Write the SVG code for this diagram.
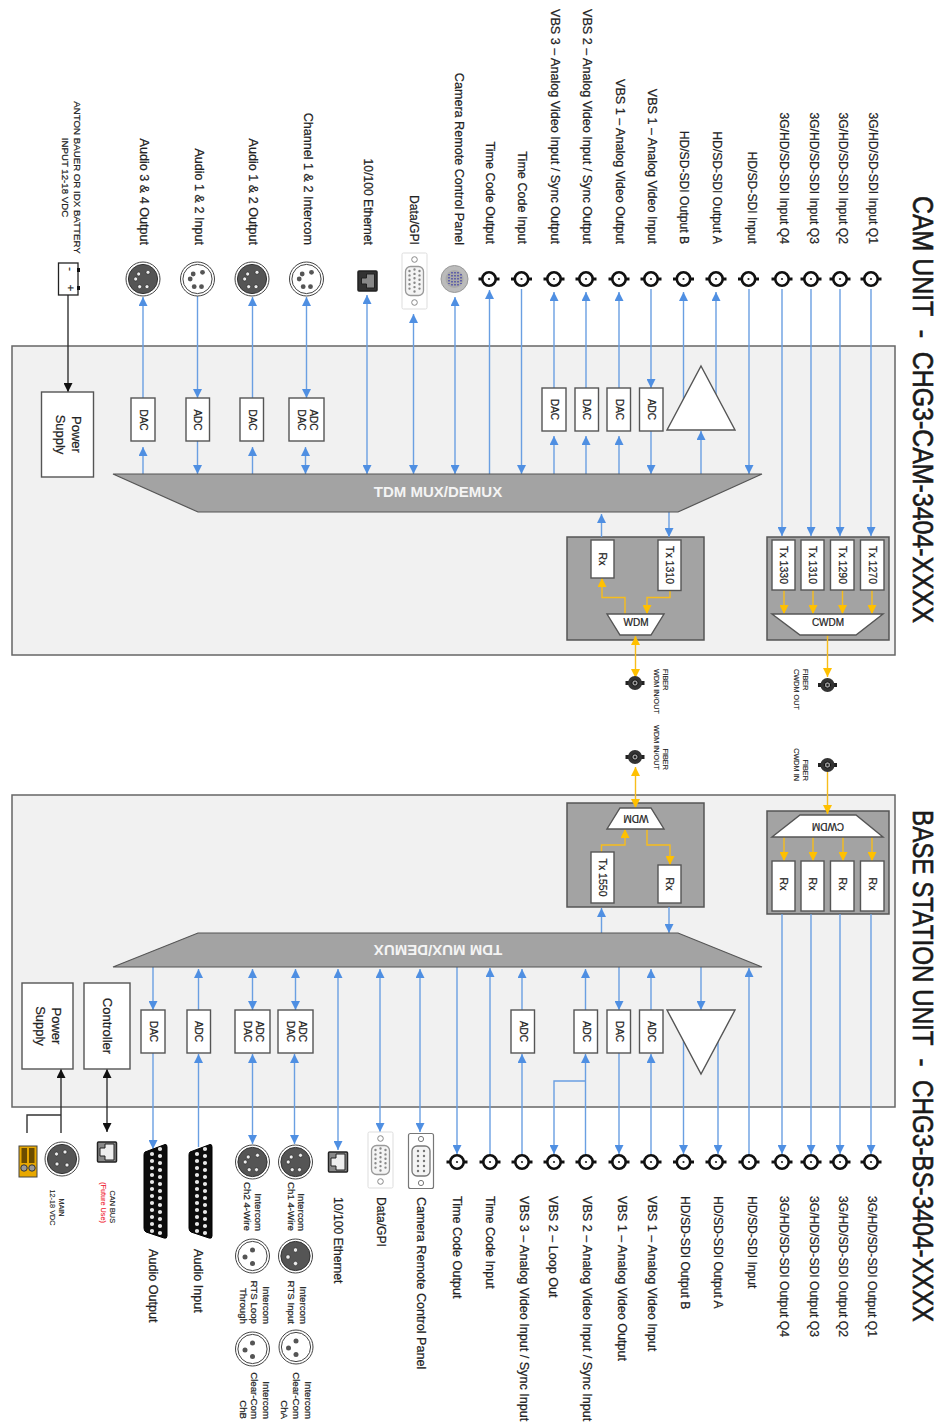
<svg xmlns="http://www.w3.org/2000/svg" width="944" height="1422" viewBox="0 0 944 1422">
<style>
text{font-family:"Liberation Sans",Arial,sans-serif;fill:#222;stroke:#222;stroke-width:.22}
.l{font-size:12.6px}
.l2{font-size:12.15px}
.e{text-anchor:end}
.m{text-anchor:middle}
.t{font-size:29px;fill:#1a1a1a;stroke:#1a1a1a;stroke-width:.6;white-space:pre}
.s9{font-size:9.7px}
.s7{font-size:7.3px;stroke-width:.1}
.bt{font-size:10px}
.tx{font-size:10.5px}
.ps{font-size:13px}
.mux{font-size:15px;font-weight:bold;fill:#f4f4f4;stroke:none;text-anchor:middle}
.panel{fill:#f1f1f1;stroke:#666;stroke-width:1.5}
.grp{fill:#a3a3a3;stroke:#555;stroke-width:1.5}
.tr{fill:#a3a3a3;stroke:#555;stroke-width:1.2}
.box{fill:#fff;stroke:#555;stroke-width:1.4}
.b,.y,.k{fill:none;stroke-width:1.4}
.b{stroke:#6a9fe2}
.y{stroke:#f7bd1c}
.k{stroke:#333}
.b.a{marker-end:url(#mb)}
.b.d{marker-end:url(#mb);marker-start:url(#mb)}
.y.a{marker-end:url(#my)}
.y.d{marker-end:url(#my);marker-start:url(#my)}
.k.a{marker-end:url(#mk)}
.k.d{marker-end:url(#mk);marker-start:url(#mk)}
</style>
<defs>
<marker id="mb" markerUnits="userSpaceOnUse" markerWidth="9" markerHeight="9" viewBox="0 0 8 8" refX="8" refY="4" orient="auto-start-reverse"><path d="M0,0L8,4L0,8z" fill="#4f8fe2"/></marker>
<marker id="my" markerUnits="userSpaceOnUse" markerWidth="9" markerHeight="9" viewBox="0 0 8 8" refX="8" refY="4" orient="auto-start-reverse"><path d="M0,0L8,4L0,8z" fill="#ffc000"/></marker>
<marker id="mk" markerUnits="userSpaceOnUse" markerWidth="9" markerHeight="9" viewBox="0 0 8 8" refX="8" refY="4" orient="auto-start-reverse"><path d="M0,0L8,4L0,8z" fill="#111"/></marker>
<g id="bnc"><rect x="-10.5" y="-1.5" width="21" height="3" fill="#111"/><circle r="6.7" fill="#fff" stroke="#111" stroke-width="2.6"/><circle r="1.1" fill="#222"/></g>
<g id="fib"><rect x="-9.5" y="-2" width="19" height="4" fill="#222"/><circle r="7" fill="#333"/><circle r="3.2" fill="#999" stroke="#111"/><circle r="1.2" fill="#222"/></g>
<g id="ringD"><circle r="17" fill="#fff" stroke="#444"/><circle r="14.6" fill="#555" stroke="#333"/></g>
<g id="ringL"><circle r="17" fill="#fff" stroke="#444"/><circle r="14.6" fill="#fff" stroke="#444"/></g>
<g id="x5D"><use href="#ringD"/><g fill="#eee" stroke="#222" stroke-width=".6"><circle cx="5" cy="-6.7" r="2"/><circle cx="-4.3" cy="-5" r="2"/><circle cx="-7.3" cy="0" r="2"/><circle cx="-3.3" cy="7.7" r="2"/><circle cx="4" cy="7.7" r="2"/></g></g>
<g id="x5L"><use href="#ringL"/><g fill="#555"><circle cx="5" cy="-6.7" r="2.4"/><circle cx="-4.3" cy="-5" r="2.4"/><circle cx="-7.3" cy="0" r="2.4"/><circle cx="-3.3" cy="7.7" r="2.4"/><circle cx="4" cy="7.7" r="2.4"/></g></g>
<g id="x3D"><use href="#ringD"/><g fill="#eee" stroke="#222" stroke-width=".6"><circle cy="-6" r="2.2"/><circle cx="-7.5" cy="1" r="2.2"/><circle cy="7.5" r="2.2"/></g></g>
<g id="x3L"><use href="#ringL"/><g fill="#555"><circle cy="-6" r="2.5"/><circle cx="-7.5" cy="1" r="2.5"/><circle cy="7.5" r="2.5"/></g></g>
<g id="x4D"><use href="#ringD"/><g fill="#eee" stroke="#222" stroke-width=".6"><circle cx="-5.5" cy="-5" r="2"/><circle cx="3" cy="-7" r="2"/><circle cx="-5" cy="5" r="2"/><circle cx="5" cy="6" r="2"/></g></g>
<g id="rj"><rect x="-9.5" y="-10" width="19" height="20" rx="1" fill="#888" stroke="#222" stroke-width="1.5"/><path d="M7,-8V8H-2V4H-7V-4H-2V-8z" fill="#eee" stroke="#222"/></g>
<g id="rjD"><rect x="-9.5" y="-10" width="19" height="20" rx="1" fill="#333" stroke="#222" stroke-width="1.5"/><path d="M7,-7V7H-1V3H-6V-3H-1V-7z" fill="#888" stroke="#222"/></g>
<g id="vga"><rect x="-12.5" y="-28" width="25" height="56" rx="1.5" fill="#fff" stroke="#ddd"/><circle cy="-21.5" r="2.8" fill="#fff" stroke="#888"/><circle cy="21.5" r="2.8" fill="#fff" stroke="#888"/><rect x="-9" y="-14.5" width="18" height="29" rx="5" fill="#f4f4f4" stroke="#999" stroke-width="1.3"/><path d="M-5,-10V11M0,-11.5V11.5M5,-10V11" stroke="#888" stroke-width="2.4" stroke-linecap="round" stroke-dasharray="0 4.4" fill="none"/></g>
<g id="vga2"><rect x="-12.5" y="-27.5" width="25" height="55" rx="2" fill="#fff" stroke="#777" stroke-width="1.2"/><circle cy="-22" r="2.6" fill="#fff" stroke="#777"/><circle cy="22" r="2.6" fill="#fff" stroke="#777"/><rect x="-9" y="-15" width="18" height="30" rx="5" fill="#f4f4f4" stroke="#777" stroke-width="1.3"/><path d="M-3,-10V11M3,-10V11" stroke="#777" stroke-width="2.4" stroke-linecap="round" stroke-dasharray="0 5" fill="none"/></g>
<g id="db25"><path d="M2,8L22,0.5Q24,0,24,3V92Q24,95,21,94L3,88Q1,87,1,84V11Q1,9,2,8z" fill="#0c0c0c" stroke="#000"/><path d="M9,10V90M17,5V93" stroke="#e8e8e8" stroke-width="4.2" stroke-linecap="round" stroke-dasharray="0 7" fill="none"/></g>
</defs>

<g id="titles">
<text class="t" transform="translate(912.5,196) rotate(90)" textLength="427" lengthAdjust="spacingAndGlyphs">CAM UNIT  -  CHG3-CAM-3404-XXXX</text>
<text class="t" transform="translate(912.5,810) rotate(90)" textLength="512" lengthAdjust="spacingAndGlyphs">BASE STATION UNIT  -  CHG3-BS-3404-XXXX</text>
</g>

<g id="cam-panel"><rect class="panel" x="12" y="346" width="883" height="309"/></g>
<g id="base-panel"><rect class="panel" x="12" y="795" width="883" height="312"/></g>
<g id="cam-wdm-group"><rect class="grp" x="567" y="537" width="137" height="103"/></g>
<g id="cam-cwdm-group"><rect class="grp" x="767" y="537" width="122" height="103"/></g>
<g id="base-wdm-group"><rect class="grp" x="567" y="803" width="137" height="104"/></g>
<g id="base-cwdm-group"><rect class="grp" x="767" y="811" width="122" height="103"/></g>

<g id="connectors">
<path class="k a" d="M68,295V392"/>
<path class="b a" d="M143,398V297"/><path class="b a" d="M143,474V447"/>
<path class="b a" d="M197.5,295V398"/><path class="b a" d="M197.5,441V474"/>
<path class="b a" d="M252.5,398V297"/><path class="b a" d="M252.5,474V447"/>
<path class="b d" d="M306.5,297V398"/><path class="b d" d="M305.5,447V474"/>
<path class="b d" d="M367,295V474"/><path class="b d" d="M413.5,314V474"/><path class="b d" d="M455,297V474"/>
<path class="b a" d="M489.5,474V290"/><path class="b a" d="M521.5,289V474"/>
<path class="b a" d="M554,388V292"/><path class="b a" d="M554,474V436"/>
<path class="b a" d="M586,388V292"/><path class="b a" d="M586,474V436"/>
<path class="b a" d="M619,388V292"/><path class="b a" d="M619,474V436"/>
<path class="b a" d="M651,289V388"/><path class="b a" d="M651,431V474"/>
<path class="b a" d="M683.5,410V292"/><path class="b a" d="M716,410V292"/><path class="b a" d="M701,474V431"/>
<path class="b a" d="M749,289V474"/>
<path class="b a" d="M782,289V536"/><path class="b a" d="M811,289V536"/><path class="b a" d="M840,289V536"/><path class="b a" d="M871,289V536"/>
<path class="b a" d="M601.5,537V514"/><path class="b a" d="M669,512V537"/>
<path class="y a" d="M625,614V597.5H602V578"/><path class="y a" d="M670,590V597.5H647V614"/>
<path class="y d" d="M635.5,636V678"/><path class="y a" d="M827.5,635V677"/>
<path class="y a" d="M784,590V614"/><path class="y a" d="M813,590V614"/><path class="y a" d="M842.5,590V614"/><path class="y a" d="M872,590V614"/>

<path class="y d" d="M635.5,767V808"/><path class="y a" d="M827.5,772V814"/>
<path class="y a" d="M601.5,852V845H625V829"/><path class="y a" d="M647,829V845H670V865"/>
<path class="y a" d="M784,837V861"/><path class="y a" d="M813,837V861"/><path class="y a" d="M843,837V861"/><path class="y a" d="M872,837V861"/>
<path class="b a" d="M601.5,933V908"/><path class="b a" d="M669,907V933"/>
<path class="b a" d="M153,967V1010"/><path class="b a" d="M153,1053V1149"/>
<path class="b a" d="M198.5,1010V969"/><path class="b a" d="M198.5,1147V1054"/>
<path class="b d" d="M252.5,969V1010"/><path class="b d" d="M252.5,1054V1144"/>
<path class="b d" d="M295.5,969V1010"/><path class="b d" d="M294.5,1054V1144"/>
<path class="b d" d="M338,969V1150"/><path class="b d" d="M380,969V1132"/><path class="b d" d="M420,969V1132"/>
<path class="b a" d="M457,967V1154"/><path class="b a" d="M490,1155V968"/>
<path class="b a" d="M522,1010V969"/><path class="b a" d="M522,1155V1054"/>
<path class="b a" d="M585.5,1010V969"/><path class="b a" d="M585.5,1155V1054"/>
<path class="b a" d="M586,1081H554V1154"/>
<path class="b a" d="M619,967V1010"/><path class="b a" d="M619,1053V1154"/>
<path class="b a" d="M651,1010V969"/><path class="b a" d="M651,1155V1054"/>
<path class="b a" d="M701,967V1010"/>
<path class="b a" d="M683.5,1040V1154"/><path class="b a" d="M718,1040V1154"/>
<path class="b a" d="M749,1155V968"/>
<path class="b a" d="M782,914V1154"/><path class="b a" d="M811,914V1154"/><path class="b a" d="M840,914V1154"/><path class="b a" d="M871,914V1154"/>
<path class="k a" d="M61,1133V1069"/><path class="k" d="M61,1115H27V1133"/><path class="k d" d="M107,1069V1132"/>
</g>

<g id="battery"><rect x="58.5" y="263" width="19.5" height="32" fill="#fff" stroke="#222" stroke-width="1.3"/><rect x="77" y="268" width="3" height="4" fill="#111"/><rect x="77" y="286" width="3" height="4" fill="#111"/><text transform="translate(67,269) rotate(90)" font-size="11" class="m">-</text><text transform="translate(67,288) rotate(90)" font-size="11" class="m">+</text>
<text class="s9 m" transform="translate(73.5,177.5) rotate(90)">ANTON BAUER OR IDX BATTERY</text><text class="s9 m" transform="translate(61.5,177.5) rotate(90)">INPUT 12-18 VDC</text></g>
<g id="cam-psu"><rect class="box" x="41.5" y="392" width="52" height="85"/><text class="ps m" transform="translate(71.5,434.5) rotate(90)">Power</text><text class="ps m" transform="translate(55.5,434.5) rotate(90)">Supply</text></g>
<g id="cam-dac34"><rect class="box" x="131" y="398" width="24" height="43"/><text class="bt m" transform="translate(139.5,420) rotate(90)">DAC</text></g>
<g id="cam-adc12"><rect class="box" x="186" y="398" width="23.5" height="43"/><text class="bt m" transform="translate(194,420) rotate(90)">ADC</text></g>
<g id="cam-dac12"><rect class="box" x="240" y="398" width="23.5" height="43"/><text class="bt m" transform="translate(248.5,420) rotate(90)">DAC</text></g>
<g id="cam-adcdac"><rect class="box" x="289" y="398" width="35" height="43"/><text class="bt m" transform="translate(309.5,420) rotate(90)">ADC</text><text class="bt m" transform="translate(297.5,420) rotate(90)">DAC</text></g>
<g id="cam-dac-vbs3"><rect class="box" x="542" y="388" width="24" height="43"/><text class="bt m" transform="translate(551,409.5) rotate(90)">DAC</text></g>
<g id="cam-dac-vbs2"><rect class="box" x="575" y="388" width="23.5" height="43"/><text class="bt m" transform="translate(583,409.5) rotate(90)">DAC</text></g>
<g id="cam-dac-vbs1"><rect class="box" x="607" y="388" width="23.5" height="43"/><text class="bt m" transform="translate(615.5,409.5) rotate(90)">DAC</text></g>
<g id="cam-adc-vbs1"><rect class="box" x="639.5" y="388" width="23.5" height="43"/><text class="bt m" transform="translate(648,409.5) rotate(90)">ADC</text></g>
<g id="cam-amp"><path class="box" d="M701,366L735,430H667z"/></g>
<g id="cam-mux"><path class="tr" d="M113,474H762L678,512H198z"/><text class="mux" transform="translate(438,497)">TDM MUX/DEMUX</text></g>
<g id="cam-rx"><rect class="box" x="591" y="540" width="23" height="38"/><text class="tx m" transform="translate(599,559) rotate(90)">Rx</text></g>
<g id="cam-tx1310"><rect class="box" x="658" y="540" width="23" height="50.5"/><text class="tx m" transform="translate(666,565) rotate(90)">Tx 1310</text></g>
<g id="cam-wdm"><path class="box" d="M607,614H664L651,635H620z"/><text class="bt m" x="636" y="626">WDM</text></g>
<g id="cam-tx-q4"><rect class="box" x="772" y="540" width="23" height="50"/><text class="tx m" transform="translate(780,565) rotate(90)">Tx 1330</text></g>
<g id="cam-tx-q3"><rect class="box" x="801" y="540" width="23" height="50"/><text class="tx m" transform="translate(809,565) rotate(90)">Tx 1310</text></g>
<g id="cam-tx-q2"><rect class="box" x="830.5" y="540" width="23.5" height="50"/><text class="tx m" transform="translate(838.5,565) rotate(90)">Tx 1290</text></g>
<g id="cam-tx-q1"><rect class="box" x="860.5" y="540" width="23.5" height="50"/><text class="tx m" transform="translate(868.5,565) rotate(90)">Tx 1270</text></g>
<g id="cam-cwdm"><path class="box" d="M772,614H883L856,635H800z"/><text class="bt m" x="828" y="626">CWDM</text></g>

<g id="cam-audio34"><use href="#x5D" x="143" y="279"/><text class="l e" transform="translate(140,245) rotate(90)">Audio 3 &amp; 4 Output</text></g>
<g id="cam-audio12in"><use href="#x5L" x="197.5" y="279"/><text class="l e" transform="translate(194.5,245) rotate(90)">Audio 1 &amp; 2 Input</text></g>
<g id="cam-audio12out"><use href="#x5D" x="252" y="279"/><text class="l e" transform="translate(249,245) rotate(90)">Audio 1 &amp; 2 Output</text></g>
<g id="cam-intercom"><use href="#x5L" x="306.5" y="279"/><text class="l e" transform="translate(304,245) rotate(90)">Channel 1 &amp; 2 Intercom</text></g>
<g id="cam-eth"><use href="#rjD" x="367.5" y="281"/><text class="l2 e" transform="translate(364,245) rotate(90)">10/100 Ethernet</text></g>
<g id="cam-gpi"><use href="#vga" x="414.5" y="281"/><text class="l2 e" transform="translate(410,245) rotate(90)">Data/GPI</text></g>
<g id="cam-panel-conn"><circle cx="454.5" cy="279" r="13.5" fill="#bbb" stroke="#999"/><circle cx="454.5" cy="279" r="9" fill="#aaa"/><path d="M449,274V284M452,272V286M455,272V286M458,272V286M461,274V284" stroke="#5a5aa8" stroke-width="1.8" stroke-dasharray="1.5 1.5" fill="none"/><text class="l e" transform="translate(455,245) rotate(90)">Camera Remote Control Panel</text></g>
<g id="cam-tc-out"><use href="#bnc" x="489" y="279"/><text class="l e" transform="translate(486,244) rotate(90)">Time Code Output</text></g>
<g id="cam-tc-in"><use href="#bnc" x="521.5" y="279"/><text class="l e" transform="translate(518,244) rotate(90)">Time Code Input</text></g>
<g id="cam-vbs3"><use href="#bnc" x="554" y="279"/><text class="l e" transform="translate(551,244) rotate(90)">VBS 3 – Analog Video Input / Sync Output</text></g>
<g id="cam-vbs2"><use href="#bnc" x="586" y="279"/><text class="l e" transform="translate(583,244) rotate(90)">VBS 2 – Analog Video Input / Sync Output</text></g>
<g id="cam-vbs1out"><use href="#bnc" x="619" y="279"/><text class="l e" transform="translate(616,244) rotate(90)">VBS 1 – Analog Video Output</text></g>
<g id="cam-vbs1in"><use href="#bnc" x="651" y="279"/><text class="l e" transform="translate(648,244) rotate(90)">VBS 1 – Analog Video Input</text></g>
<g id="cam-sdi-b"><use href="#bnc" x="683.5" y="279"/><text class="l2 e" transform="translate(680,244) rotate(90)">HD/SD-SDI Output B</text></g>
<g id="cam-sdi-a"><use href="#bnc" x="716" y="279"/><text class="l2 e" transform="translate(713,244) rotate(90)">HD/SD-SDI Output A</text></g>
<g id="cam-sdi-in"><use href="#bnc" x="748.5" y="279"/><text class="l2 e" transform="translate(748,244) rotate(90)">HD/SD-SDI Input</text></g>
<g id="cam-q4"><use href="#bnc" x="782" y="279"/><text class="l2 e" transform="translate(780,244) rotate(90)">3G/HD/SD-SDI Input Q4</text></g>
<g id="cam-q3"><use href="#bnc" x="811" y="279"/><text class="l2 e" transform="translate(810,244) rotate(90)">3G/HD/SD-SDI Input Q3</text></g>
<g id="cam-q2"><use href="#bnc" x="840" y="279"/><text class="l2 e" transform="translate(839,244) rotate(90)">3G/HD/SD-SDI Input Q2</text></g>
<g id="cam-q1"><use href="#bnc" x="871" y="279"/><text class="l2 e" transform="translate(869,244) rotate(90)">3G/HD/SD-SDI Input Q1</text></g>
<g id="cam-fiber-wdm"><use href="#fib" x="635" y="683"/><text class="s7" transform="translate(663,669) rotate(90)">FIBER</text><text class="s7" transform="translate(654,669) rotate(90)">WDM IN/OUT</text></g>
<g id="cam-fiber-cwdm"><use href="#fib" x="827.5" y="685"/><text class="s7" transform="translate(803,669) rotate(90)">FIBER</text><text class="s7" transform="translate(794,669) rotate(90)">CWDM OUT</text></g>

<g id="base-fiber-wdm"><use href="#fib" x="635" y="757"/><text class="s7 e" transform="translate(663,770) rotate(90)">FIBER</text><text class="s7 e" transform="translate(654,770) rotate(90)">WDM IN/OUT</text></g>
<g id="base-fiber-cwdm"><use href="#fib" x="827.5" y="765"/><text class="s7 e" transform="translate(803,781) rotate(90)">FIBER</text><text class="s7 e" transform="translate(794,781) rotate(90)">CWDM IN</text></g>
<g id="base-wdm"><path class="box" d="M620,808H651L664,829H607z"/><text class="bt m" transform="translate(636,815) rotate(180)">WDM</text></g>
<g id="base-tx1550"><rect class="box" x="591" y="852" width="23" height="51"/><text class="tx m" transform="translate(599,877.5) rotate(90)">Tx 1550</text></g>
<g id="base-rx"><rect class="box" x="658" y="865" width="23" height="38"/><text class="tx m" transform="translate(666,884) rotate(90)">Rx</text></g>
<g id="base-cwdm"><path class="box" d="M800,815H856L883,837H772z"/><text class="bt m" transform="translate(828,823) rotate(180)">CWDM</text></g>
<g id="base-rx-q4"><rect class="box" x="772" y="861" width="23" height="50"/><text class="tx m" transform="translate(780,884) rotate(90)">Rx</text></g>
<g id="base-rx-q3"><rect class="box" x="801" y="861" width="23" height="50"/><text class="tx m" transform="translate(809,884) rotate(90)">Rx</text></g>
<g id="base-rx-q2"><rect class="box" x="830.5" y="861" width="23.5" height="50"/><text class="tx m" transform="translate(838.5,884) rotate(90)">Rx</text></g>
<g id="base-rx-q1"><rect class="box" x="860.5" y="861" width="23.5" height="50"/><text class="tx m" transform="translate(868.5,884) rotate(90)">Rx</text></g>
<g id="base-mux"><path class="tr" d="M198,933H678L762,967H113z"/><text class="mux" transform="translate(438,945) rotate(180)">TDM MUX/DEMUX</text></g>
<g id="base-psu"><rect class="box" x="22" y="983" width="51" height="86"/><text class="ps m" transform="translate(51.5,1026) rotate(90)">Power</text><text class="ps m" transform="translate(36,1026) rotate(90)">Supply</text></g>
<g id="base-ctrl"><rect class="box" x="84" y="983" width="46" height="86"/><text class="ps m" transform="translate(102.5,1026) rotate(90)">Controller</text></g>
<g id="base-dac"><rect class="box" x="141" y="1010" width="24" height="43"/><text class="bt m" transform="translate(149.5,1031.5) rotate(90)">DAC</text></g>
<g id="base-adc"><rect class="box" x="187" y="1010" width="23.5" height="43"/><text class="bt m" transform="translate(195,1031.5) rotate(90)">ADC</text></g>
<g id="base-adcdac2"><rect class="box" x="235" y="1010" width="35" height="43"/><text class="bt m" transform="translate(255.5,1031.5) rotate(90)">ADC</text><text class="bt m" transform="translate(243.5,1031.5) rotate(90)">DAC</text></g>
<g id="base-adcdac1"><rect class="box" x="278" y="1010" width="35" height="43"/><text class="bt m" transform="translate(298.5,1031.5) rotate(90)">ADC</text><text class="bt m" transform="translate(286.5,1031.5) rotate(90)">DAC</text></g>
<g id="base-adc-vbs3"><rect class="box" x="511" y="1010" width="23.5" height="43"/><text class="bt m" transform="translate(519.5,1031.5) rotate(90)">ADC</text></g>
<g id="base-adc-vbs2"><rect class="box" x="574" y="1010" width="23.5" height="43"/><text class="bt m" transform="translate(582.5,1031.5) rotate(90)">ADC</text></g>
<g id="base-dac-vbs1"><rect class="box" x="607" y="1010" width="23.5" height="43"/><text class="bt m" transform="translate(615.5,1031.5) rotate(90)">DAC</text></g>
<g id="base-adc-vbs1"><rect class="box" x="639.5" y="1010" width="23.5" height="43"/><text class="bt m" transform="translate(648,1031.5) rotate(90)">ADC</text></g>
<g id="base-amp"><path class="box" d="M667,1010H735L701,1074z"/></g>

<g id="base-dc-block"><rect x="19" y="1146" width="18" height="31" fill="#e8a800" stroke="#444"/><rect x="21.5" y="1148" width="5.5" height="15" fill="#6b4c00"/><rect x="29" y="1148" width="5.5" height="15" fill="#6b4c00"/><circle cx="24" cy="1168" r="3.2" fill="#999" stroke="#333"/><circle cx="32" cy="1168" r="3.2" fill="#999" stroke="#333"/></g>
<g id="base-main"><use href="#x4D" x="62" y="1159"/><text class="s7 m" transform="translate(58.5,1207.5) rotate(90)">MAIN</text><text class="s7 m" transform="translate(49.5,1207.5) rotate(90)">12-18 VDC</text></g>
<g id="base-can"><use href="#rj" x="107" y="1152"/><text class="s7 e" transform="translate(109.5,1223) rotate(90)">CAN BUS</text><text class="s7 e" transform="translate(100.5,1223) rotate(90)" style="fill:#f02030;stroke:#f02030">(Future Use)</text></g>
<g id="base-audio-out"><use href="#db25" x="143" y="1144"/><text class="l" transform="translate(149,1249) rotate(90)">Audio Output</text></g>
<g id="base-audio-in"><use href="#db25" x="188" y="1144"/><text class="l" transform="translate(194,1249) rotate(90)">Audio Input</text></g>
<g id="base-ch2"><use href="#x5D" x="252.5" y="1162"/><text class="s9 e" transform="translate(255,1231) rotate(90)">Intercom</text><text class="s9 e" transform="translate(244,1231) rotate(90)">Ch2 4-Wire</text></g>
<g id="base-ch1"><use href="#x5D" x="295.5" y="1162"/><text class="s9 e" transform="translate(298,1231) rotate(90)">Intercom</text><text class="s9 e" transform="translate(287.5,1231) rotate(90)">Ch1 4-Wire</text></g>
<g id="base-rts-loop"><use href="#x3L" x="252.5" y="1256"/><text class="s9 e" transform="translate(262.5,1324) rotate(90)">Intercom</text><text class="s9 e" transform="translate(250.5,1324) rotate(90)">RTS Loop</text><text class="s9 e" transform="translate(239.5,1324) rotate(90)">Through</text></g>
<g id="base-rts-in"><use href="#x3D" x="295.5" y="1256"/><text class="s9 e" transform="translate(300,1324) rotate(90)">Intercom</text><text class="s9 e" transform="translate(288,1324) rotate(90)">RTS Input</text></g>
<g id="base-cc-b"><use href="#x3L" x="252.5" y="1349"/><text class="s9 e" transform="translate(262.5,1419) rotate(90)">Intercom</text><text class="s9 e" transform="translate(250.5,1419) rotate(90)">Clear-Com</text><text class="s9 e" transform="translate(239.5,1419) rotate(90)">ChB</text></g>
<g id="base-cc-a"><use href="#x3L" x="296" y="1347"/><text class="s9 e" transform="translate(305,1419) rotate(90)">Intercom</text><text class="s9 e" transform="translate(293,1419) rotate(90)">Clear-Com</text><text class="s9 e" transform="translate(281,1419) rotate(90)">ChA</text></g>
<g id="base-eth"><use href="#rj" x="338" y="1162"/><text class="l2" transform="translate(334,1197) rotate(90)">10/100 Ethernet</text></g>
<g id="base-gpi"><use href="#vga" x="380.5" y="1160"/><text class="l2" transform="translate(377,1197) rotate(90)">Data/GPI</text></g>
<g id="base-panel-conn"><use href="#vga2" x="421" y="1161"/><text class="l" transform="translate(417,1197) rotate(90)">Camera Remote Control Panel</text></g>
<g id="base-tc-out"><use href="#bnc" x="457" y="1162"/><text class="l" transform="translate(453,1196) rotate(90)">Time Code Output</text></g>
<g id="base-tc-in"><use href="#bnc" x="490" y="1162"/><text class="l" transform="translate(486,1196) rotate(90)">Time Code Input</text></g>
<g id="base-vbs3"><use href="#bnc" x="522" y="1162"/><text class="l" transform="translate(520,1196) rotate(90)">VBS 3 – Analog Video Input / Sync Input</text></g>
<g id="base-vbs2loop"><use href="#bnc" x="554" y="1162"/><text class="l" transform="translate(549,1196) rotate(90)">VBS 2 – Loop Out</text></g>
<g id="base-vbs2"><use href="#bnc" x="586" y="1162"/><text class="l" transform="translate(583,1196) rotate(90)">VBS 2 – Analog Video Input / Sync Input</text></g>
<g id="base-vbs1out"><use href="#bnc" x="619" y="1162"/><text class="l" transform="translate(618,1196) rotate(90)">VBS 1 – Analog Video Output</text></g>
<g id="base-vbs1in"><use href="#bnc" x="651" y="1162"/><text class="l" transform="translate(648,1196) rotate(90)">VBS 1 – Analog Video Input</text></g>
<g id="base-sdi-b"><use href="#bnc" x="683.5" y="1162"/><text class="l2" transform="translate(681,1196) rotate(90)">HD/SD-SDI Output B</text></g>
<g id="base-sdi-a"><use href="#bnc" x="716" y="1162"/><text class="l2" transform="translate(714,1196) rotate(90)">HD/SD-SDI Output A</text></g>
<g id="base-sdi-in"><use href="#bnc" x="749" y="1162"/><text class="l2" transform="translate(748,1196) rotate(90)">HD/SD-SDI Input</text></g>
<g id="base-q4"><use href="#bnc" x="782" y="1162"/><text class="l2" transform="translate(780,1196) rotate(90)">3G/HD/SD-SDI Output Q4</text></g>
<g id="base-q3"><use href="#bnc" x="811" y="1162"/><text class="l2" transform="translate(810,1196) rotate(90)">3G/HD/SD-SDI Output Q3</text></g>
<g id="base-q2"><use href="#bnc" x="840" y="1162"/><text class="l2" transform="translate(839,1196) rotate(90)">3G/HD/SD-SDI Output Q2</text></g>
<g id="base-q1"><use href="#bnc" x="871" y="1162"/><text class="l2" transform="translate(868,1196) rotate(90)">3G/HD/SD-SDI Output Q1</text></g>
</svg>
